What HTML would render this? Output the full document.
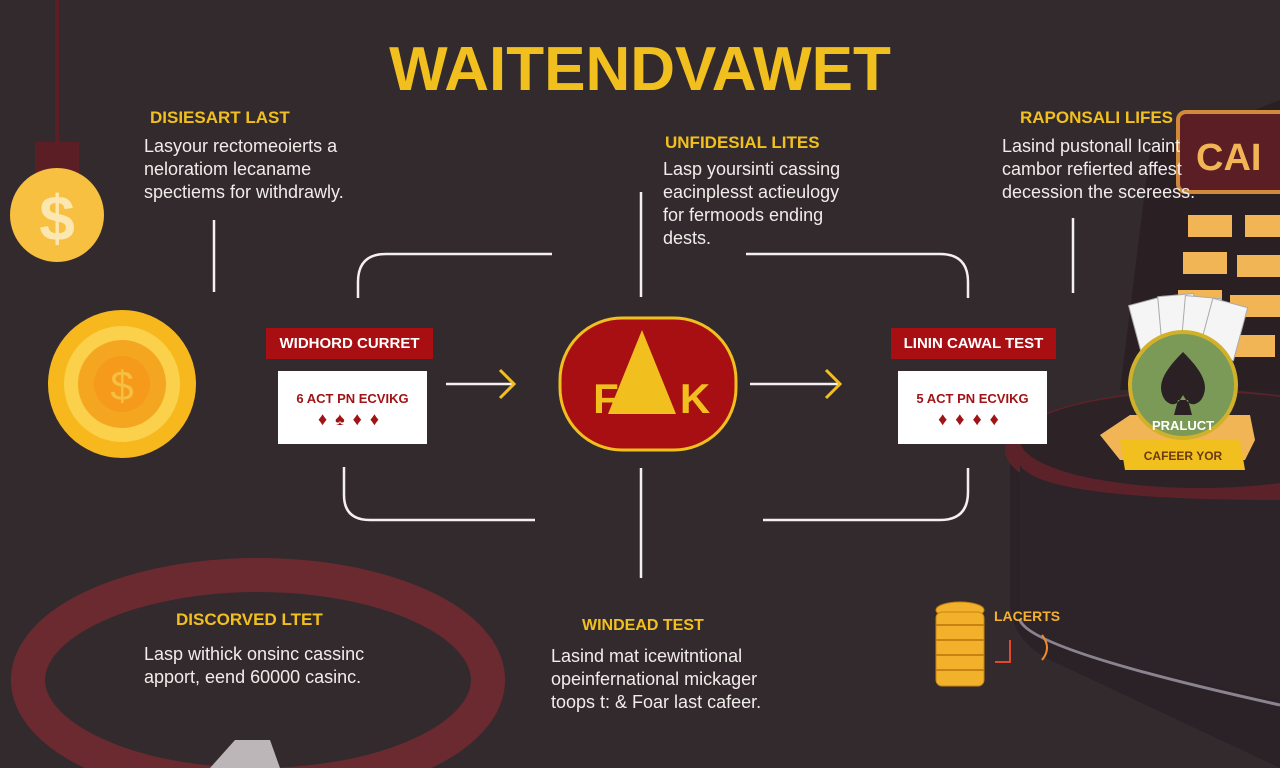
<!DOCTYPE html>
<html><head><meta charset="utf-8"><style>
body{margin:0;width:1280px;height:768px;overflow:hidden;background:#332a2e;font-family:"Liberation Sans",sans-serif;position:relative}
.a{position:absolute}
.h{color:#f2c01e;font-weight:bold;font-size:17px}
.t{color:#f0ecea;font-size:18px;line-height:23px}
.lab{background:#a70f12;color:#fff;font-weight:bold;font-size:15px;text-align:center;line-height:31px}
.card{background:#fff;text-align:center;color:#a01316;font-weight:bold;font-size:13px}
</style></head><body>
<svg class="a" style="left:0;top:0" width="1280" height="768">
<!-- bottom left ring -->
<ellipse cx="258" cy="680" rx="230" ry="105" fill="none" stroke="#6a2a30" stroke-width="34"/>
<polygon points="210,768 235,740 270,740 280,768" fill="#bcb6b8"/>
<!-- right table -->
<path d="M1010,455 Q1020,395 1280,385 L1280,768 L1050,660 Q1010,640 1010,600Z" fill="#2a2226"/>
<ellipse cx="1200" cy="450" rx="195" ry="60" fill="#5c2229"/>
<ellipse cx="1200" cy="440" rx="180" ry="48" fill="#2d2327"/>
<path d="M1020,465 L1020,620 Q1030,650 1280,700 L1280,500 Q1040,500 1020,465Z" fill="#2c2428"/>
<path d="M1020,620 Q1030,650 1280,705" stroke="#8a8490" stroke-width="3" fill="none"/>
<!-- machine -->
<path d="M1150,150 L1280,100 L1280,390 L1120,390Z" fill="#2a2024"/>
<rect x="1178" y="112" width="110" height="80" rx="8" fill="#5a1e24" stroke="#d18a3c" stroke-width="4"/>
<text x="1196" y="170" font-family="Liberation Sans" font-weight="bold" font-size="38" fill="#f2b556">CAI</text>
<g fill="#f2b556"><rect x="1188" y="215" width="44" height="22"/><rect x="1245" y="215" width="40" height="22"/><rect x="1183" y="252" width="44" height="22"/><rect x="1237" y="255" width="45" height="22"/><rect x="1178" y="290" width="44" height="22"/><rect x="1230" y="295" width="50" height="22"/><rect x="1225" y="335" width="50" height="22"/></g>
<g fill="#f5f5f5" stroke="#aaa"><rect x="1135" y="300" width="36" height="55" transform="rotate(-15 1153 327)"/><rect x="1160" y="295" width="36" height="55" transform="rotate(-5 1178 322)"/><rect x="1183" y="297" width="36" height="55" transform="rotate(5 1201 324)"/><rect x="1205" y="302" width="36" height="55" transform="rotate(15 1223 330)"/></g>
<polygon points="1100,435 1130,415 1250,415 1255,440 1245,460 1120,460" fill="#f2b556"/>
<circle cx="1183" cy="385" r="53" fill="#7b9a57" stroke="#d1b12a" stroke-width="4"/>
<path d="M1183,352 C1165,370 1155,385 1165,400 C1175,410 1180,400 1183,395 C1186,400 1191,410 1201,400 C1211,385 1201,370 1183,352Z M1178,400 L1188,400 L1192,415 L1174,415Z" fill="#2b2024"/>
<text x="1183" y="430" text-anchor="middle" font-size="13" font-weight="bold" fill="#fff" font-family="Liberation Sans">PRALUCT</text>
<path d="M1120,440 L1240,440 L1245,470 L1125,470Z" fill="#f2c01e"/>
<text x="1183" y="460" text-anchor="middle" font-size="12" font-weight="bold" fill="#6a3a10" font-family="Liberation Sans">CAFEER YOR</text>
<!-- left icons -->
<line x1="57" y1="0" x2="57" y2="145" stroke="#5a1e24" stroke-width="4"/>
<rect x="35" y="142" width="44" height="32" fill="#5a1e24"/>
<circle cx="57" cy="215" r="47" fill="#f7c040"/>
<text x="57" y="240" text-anchor="middle" font-size="64" font-weight="bold" fill="#fce7b0" font-family="Liberation Sans">$</text>
<circle cx="122" cy="384" r="74" fill="#f6b81c"/>
<circle cx="122" cy="384" r="58" fill="#fbd04a"/>
<circle cx="122" cy="384" r="44" fill="#f5a620"/>
<circle cx="122" cy="384" r="28" fill="#f59a1a"/>
<text x="122" y="400" text-anchor="middle" font-size="42" fill="#f5c042" font-family="Liberation Sans">$</text>
<!-- coins -->
<g fill="#f2b12a" stroke="#c88212"><ellipse cx="960" cy="610" rx="24" ry="8"/><rect x="936" y="612" width="48" height="74" rx="6"/></g>
<g stroke="#c88212" stroke-width="2"><line x1="936" y1="625" x2="984" y2="625"/><line x1="936" y1="640" x2="984" y2="640"/><line x1="936" y1="655" x2="984" y2="655"/><line x1="936" y1="670" x2="984" y2="670"/></g>
<path d="M1010,640 L1010,662 L995,662" stroke="#e04a2a" stroke-width="2" fill="none"/>
<path d="M1042,635 Q1052,648 1042,660" stroke="#f08a2a" stroke-width="2" fill="none"/>
<!-- connectors -->
<g stroke="#f4f0f0" stroke-width="2.5" fill="none">
<line x1="214" y1="220" x2="214" y2="292"/>
<path d="M358,298 L358,282 Q358,254 386,254 L552,254"/>
<path d="M746,254 L940,254 Q968,254 968,282 L968,298"/>
<line x1="641" y1="192" x2="641" y2="297"/>
<line x1="1073" y1="218" x2="1073" y2="293"/>
<path d="M344,467 L344,495 Q344,520 370,520 L535,520"/>
<path d="M763,520 L940,520 Q968,520 968,492 L968,468"/>
<line x1="641" y1="468" x2="641" y2="578"/>
<line x1="446" y1="384" x2="512" y2="384"/>
<line x1="750" y1="384" x2="838" y2="384"/>
</g>
<g stroke="#f2c01e" stroke-width="3" fill="none"><path d="M500,370 L514,384 L500,398"/><path d="M826,370 L840,384 L826,398"/></g>
<!-- center -->
<rect x="560" y="318" width="176" height="132" rx="62" fill="#a70f12" stroke="#f2c01e" stroke-width="3"/>
<polygon points="642,330 676,414 608,414" fill="#f2c01e"/>
<text x="606" y="413" text-anchor="middle" font-size="42" font-weight="bold" fill="#f2c01e" font-family="Liberation Sans">F</text>
<text x="695" y="413" text-anchor="middle" font-size="42" font-weight="bold" fill="#f2c01e" font-family="Liberation Sans">K</text>
</svg>
<div class="a" style="left:0;top:34px;width:1280px;text-align:center;color:#f2c01e;font-weight:bold;font-size:62px;letter-spacing:0px">WAITENDVAWET</div>
<div class="a h" style="left:150px;top:108px">DISIESART LAST</div>
<div class="a t" style="left:144px;top:135px">Lasyour rectomeoierts a<br>neloratiom lecaname<br>spectiems for withdrawly.</div>
<div class="a h" style="left:665px;top:133px">UNFIDESIAL LITES</div>
<div class="a t" style="left:663px;top:158px">Lasp yoursinti cassing<br>eacinplesst actieulogy<br>for fermoods ending<br>dests.</div>
<div class="a h" style="left:1020px;top:108px">RAPONSALI LIFES</div>
<div class="a t" style="left:1002px;top:135px">Lasind pustonall Icaint<br>cambor refierted affest<br>decession the scereess.</div>
<div class="a lab" style="left:266px;top:328px;width:167px">WIDHORD CURRET</div>
<div class="a card" style="left:278px;top:371px;width:149px;height:73px"><div style="margin-top:20px">6 ACT PN ECVIKG</div><div style="font-size:18px;letter-spacing:8px;margin-top:3px">♦♠♦♦</div></div>
<div class="a lab" style="left:891px;top:328px;width:165px">LININ CAWAL TEST</div>
<div class="a card" style="left:898px;top:371px;width:149px;height:73px"><div style="margin-top:20px">5 ACT PN ECVIKG</div><div style="font-size:18px;letter-spacing:8px;margin-top:3px">♦♦♦♦</div></div>
<div class="a h" style="left:176px;top:610px">DISCORVED LTET</div>
<div class="a t" style="left:144px;top:643px">Lasp withick onsinc cassinc<br>apport, eend 60000 casinc.</div>
<div class="a h" style="left:582px;top:617px;font-size:16px">WINDEAD TEST</div>
<div class="a t" style="left:551px;top:645px">Lasind mat icewitntional<br>opeinfernational mickager<br>toops t: &amp; Foar last cafeer.</div>
<div class="a h" style="left:994px;top:608px;font-size:14px;color:#f5b030">LACERTS</div>
</body></html>
